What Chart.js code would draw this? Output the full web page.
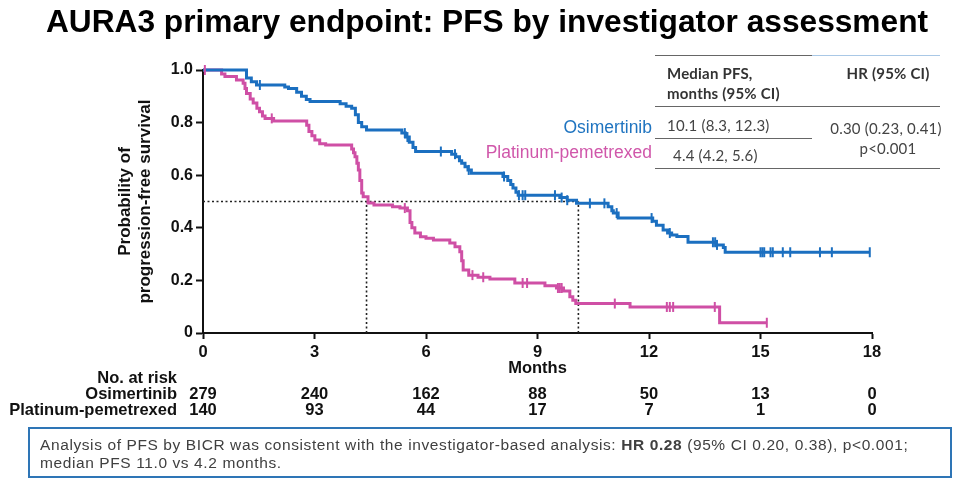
<!DOCTYPE html>
<html>
<head>
<meta charset="utf-8">
<script src="https://cdn.jsdelivr.net/npm/chart.js@4.4.0/dist/chart.umd.min.js"></script>
<style>
body { margin: 0; background: #fff; font-family: "Liberation Sans", Arial, sans-serif; }
#wrap { position: relative; width: 974px; height: 485px; overflow: hidden; }
#chart { position: absolute; left: 0; top: 0; }
.abs { position: absolute; white-space: nowrap; }
#title { left: 0; width: 974px; top: 3px; text-align: center; font-weight: bold; font-size: 31.7px; line-height: 37px; color: #000; }
.tbl { font-family: Lato, "Open Sans", sans-serif; font-size: 15px; letter-spacing: 0.2px; color: #444; line-height: 18px; }
.tbl b { color: #333; }
.hl { position: absolute; height: 0; border-top: 1.5px solid #666; }
.lab { font-size: 17.5px; line-height: 20px; }
#box { left: 28px; top: 427px; width: 924px; height: 51px; box-sizing: border-box; border: 2px solid #2e75b6; }
.foot { font-size: 15.5px; letter-spacing: 0.6px; color: #404040; line-height: 18px; left: 40px; }
</style>
</head>
<body>
<div id="wrap">
  <canvas id="chart" width="974" height="485"></canvas>
  <div id="title" class="abs">AURA3 primary endpoint: PFS by investigator assessment</div>

  <!-- tableau médiane / HR -->
  <div class="hl" style="left:655px; top:55px; width:157px;"></div>
  <div class="hl" style="left:812px; top:55px; width:128px; border-color:#a9c8e6;"></div>
  <div class="hl" style="left:655px; top:106px; width:285px;"></div>
  <div class="hl" style="left:655px; top:138px; width:157px;"></div>
  <div class="hl" style="left:655px; top:168px; width:285px;"></div>
  <div class="abs tbl" style="left:667px; top:64px;"><b>Median PFS,</b></div>
  <div class="abs tbl" style="left:667px; top:84px;"><b>months (95% CI)</b></div>
  <div class="abs tbl" style="left:818px; width:140px; text-align:center; top:64px;"><b>HR (95% CI)</b></div>
  <div class="abs tbl" style="left:667px; top:116px;">10.1 (8.3, 12.3)</div>
  <div class="abs tbl" style="left:673px; top:146px;">4.4 (4.2, 5.6)</div>
  <div class="abs tbl" style="left:816px; width:140px; text-align:center; top:119px;">0.30 (0.23, 0.41)</div>
  <div class="abs tbl" style="left:818px; width:140px; text-align:center; top:139px;">p&lt;0.001</div>

  <div class="abs lab" style="right:322px; top:117px; color:#1f74c0;">Osimertinib</div>
  <div class="abs lab" style="right:322px; top:142px; color:#d057aa;">Platinum-pemetrexed</div>

  <div id="box" class="abs"></div>
  <div class="abs foot" style="top:436px;">Analysis of PFS by BICR was consistent with the investigator-based analysis: <b>HR 0.28</b> (95% CI 0.20, 0.38), p&lt;0.001;</div>
  <div class="abs foot" style="top:454px;">median PFS 11.0 vs 4.2 months.</div>
</div>
<script>
// ---- Osimertinib (courbe bleue) ----
var osiTimes = [0, 1.17, 1.3, 1.44, 2.2, 2.3, 2.52, 2.65, 2.78, 2.88, 3.69, 3.85, 4.0, 4.1, 4.18, 4.27, 4.4,
  5.35, 5.45, 5.55, 5.65, 5.72, 6.69, 6.8, 6.9, 6.96, 7.05, 7.13, 7.22, 8.07, 8.2, 8.28, 8.34, 8.42, 8.48,
  9.6, 9.8, 10.05, 10.9, 11.0, 11.04, 11.17, 12.1, 12.2, 12.38, 12.5, 12.61, 12.75, 13.05, 13.8, 14.0, 14.05];
var osiSurv = [1.0, 0.97, 0.955, 0.943, 0.935, 0.93, 0.915, 0.9, 0.888, 0.88, 0.872, 0.862, 0.855, 0.83, 0.80, 0.784, 0.772,
  0.76, 0.745, 0.725, 0.705, 0.69, 0.68, 0.67, 0.655, 0.645, 0.632, 0.62, 0.607, 0.595, 0.58, 0.565, 0.551, 0.535, 0.524,
  0.515, 0.505, 0.493, 0.48, 0.465, 0.456, 0.437, 0.425, 0.41, 0.392, 0.38, 0.373, 0.367, 0.345, 0.335, 0.325, 0.307];
var osiCensor = [1.53, 5.43, 5.5, 6.4, 6.78, 7.15, 8.1, 8.5, 8.6, 8.67, 9.47, 9.65, 9.8, 10.41, 10.8, 11.13, 12.07, 12.56,
  13.72, 13.78, 13.83, 15.0, 15.05, 15.1, 15.27, 15.33, 15.6, 15.8, 16.6, 16.92, 17.94];

// ---- Platinum-pemetrexed (courbe rose) ----
var platTimes = [0, 0.5, 0.59, 0.9, 1.08, 1.13, 1.17, 1.27, 1.35, 1.45, 1.52, 1.6, 1.67, 1.9, 2.79, 2.85, 2.93, 3.01, 3.14, 3.3,
  4.0, 4.05, 4.09, 4.14, 4.18, 4.22, 4.27, 4.31, 4.44, 4.6, 5.1, 5.3, 5.5, 5.57, 5.62, 5.7, 5.85, 6.0, 6.2, 6.64, 6.78, 6.91,
  6.96, 7.0, 7.15, 7.4, 7.72, 8.39, 9.2, 9.51, 9.7, 9.87, 9.95, 10.03, 11.49, 13.9];
var platSurv = [1.0, 0.985, 0.975, 0.962, 0.95, 0.93, 0.911, 0.89, 0.875, 0.855, 0.841, 0.825, 0.816, 0.806, 0.79, 0.766, 0.75, 0.734, 0.72, 0.715,
  0.70, 0.685, 0.67, 0.645, 0.62, 0.58, 0.532, 0.518, 0.494, 0.487, 0.48, 0.475, 0.465, 0.42, 0.40, 0.38, 0.366, 0.36, 0.354, 0.342, 0.328, 0.309,
  0.275, 0.24, 0.22, 0.212, 0.205, 0.19, 0.18, 0.171, 0.16, 0.138, 0.125, 0.112, 0.099, 0.039];
var platCensor = [0.05, 1.85, 5.43, 7.25, 7.54, 8.6, 8.72, 9.55, 9.6, 9.65, 11.08, 12.48, 12.56, 12.65, 13.77, 15.17];

// médianes (lignes pointillées)
var medians = [4.4, 10.1];

// ---- nombre à risque ----
var riskTimes = [0, 3, 6, 9, 12, 15, 18];
var riskOsi = [279, 240, 162, 88, 50, 13, 0];
var riskPlat = [140, 93, 44, 17, 7, 1, 0];

var blue = '#1b6fc0';
var pink = '#cf4fa5';
var axisFont = '"Liberation Sans", Arial';

function survAt(times, surv, t) {
  var s = surv[0];
  for (var i = 0; i < times.length; i++) {
    if (times[i] <= t) s = surv[i];
  }
  return s;
}

function kmData(times, surv, censor) {
  var pts = times.map(function (t, i) { return {x: t, y: surv[i]}; });
  var last = censor[censor.length - 1];
  pts.push({x: last, y: survAt(times, surv, last)});
  return pts;
}

function censorData(times, surv, censor) {
  return censor.map(function (t) { return {x: t, y: survAt(times, surv, t)}; });
}

var dotted = {
  type: 'line', borderColor: '#222', borderWidth: 1.6, borderDash: [2, 2.5],
  pointRadius: 0, fill: false, order: 10
};

var riskPlugin = {
  id: 'risk',
  afterDraw: function (chart) {
    var ctx = chart.ctx;
    var x = chart.scales.x;
    ctx.save();
    ctx.fillStyle = '#111';
    ctx.font = 'bold 16.5px ' + axisFont + ', sans-serif';
    ctx.textBaseline = 'middle';
    ctx.textAlign = 'right';
    ctx.fillText('No. at risk', 177, 378);
    ctx.fillText('Osimertinib', 177, 394);
    ctx.fillText('Platinum-pemetrexed', 177, 410);
    ctx.textAlign = 'center';
    riskTimes.forEach(function (t, i) {
      var px = x.getPixelForValue(t);
      ctx.fillText(String(riskOsi[i]), px, 394);
      ctx.fillText(String(riskPlat[i]), px, 410);
    });
    ctx.restore();
  }
};

var ctx = document.getElementById('chart').getContext('2d');
var chart = new Chart(ctx, {
  type: 'line',
  data: {
    datasets: [
      Object.assign({data: [{x: 0, y: 0.5}, {x: medians[1], y: 0.5}]}, dotted),
      Object.assign({data: [{x: medians[0], y: 0}, {x: medians[0], y: 0.5}]}, dotted),
      Object.assign({data: [{x: medians[1], y: 0}, {x: medians[1], y: 0.5}]}, dotted),
      {
        label: 'Osimertinib', data: kmData(osiTimes, osiSurv, osiCensor),
        borderColor: blue, borderWidth: 3, stepped: true, pointRadius: 0, order: 2, clip: 8
      },
      {
        label: 'Platinum-pemetrexed', data: kmData(platTimes, platSurv, platCensor),
        borderColor: pink, borderWidth: 3, stepped: true, pointRadius: 0, order: 3, clip: 8
      },
      {
        type: 'scatter', data: censorData(osiTimes, osiSurv, osiCensor), clip: 8,
        pointStyle: 'line', rotation: 90, radius: 5, borderColor: blue, borderWidth: 2, order: 0
      },
      {
        type: 'scatter', data: censorData(platTimes, platSurv, platCensor), clip: 8,
        pointStyle: 'line', rotation: 90, radius: 5, borderColor: pink, borderWidth: 2, order: 1
      }
    ]
  },
  options: {
    responsive: false,
    animation: false,
    layout: { padding: { top: 70, right: 102, bottom: 102, left: 0 } },
    plugins: { legend: { display: false }, tooltip: { enabled: false } },
    scales: {
      x: {
        type: 'linear', min: 0, max: 18,
        afterFit: function (s) { s.height = 50; },
        ticks: { stepSize: 3, color: '#111', padding: 4, font: { family: axisFont, size: 16.5, weight: 'bold' } },
        grid: { drawOnChartArea: false, drawTicks: true, tickLength: 6, tickColor: '#111', tickWidth: 2 },
        border: { color: '#111', width: 2 },
        title: { display: true, text: 'Months', color: '#111', padding: { top: 0, bottom: 5 },
          font: { family: axisFont, size: 16.5, weight: 'bold' } }
      },
      y: {
        min: 0, max: 1,
        afterFit: function (s) { s.width = 203; },
        ticks: {
          stepSize: 0.2, color: '#111', padding: 3,
          font: { family: axisFont, size: 16, weight: 'bold' },
          callback: function (v) { return v === 0 ? '0' : v.toFixed(1); }
        },
        grid: { drawOnChartArea: false, drawTicks: true, tickLength: 7, tickColor: '#111', tickWidth: 2 },
        border: { color: '#111', width: 2 },
        title: { display: true, text: ['Probability of', 'progression-free survival'], color: '#111',
          padding: { top: 116, bottom: 0 },
          font: { family: axisFont, size: 17, weight: 'bold', lineHeight: 1.15 } }
      }
    }
  },
  plugins: [riskPlugin]
});
</script>
</body>
</html>
